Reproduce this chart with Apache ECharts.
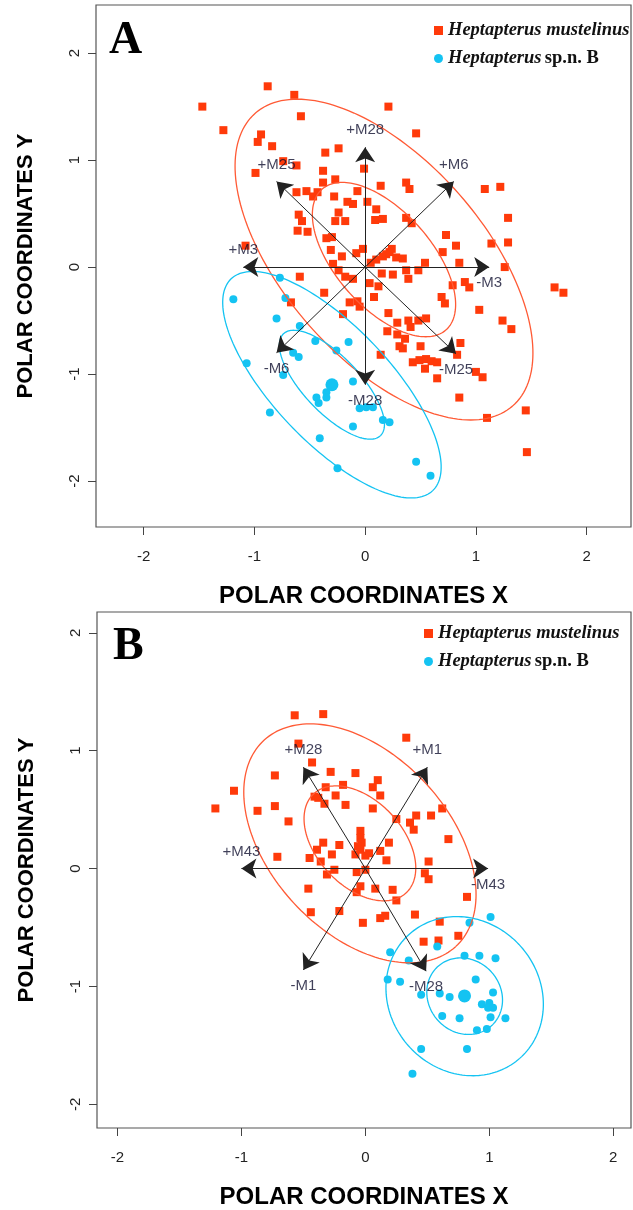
<!DOCTYPE html>
<html>
<head>
<meta charset="utf-8">
<script src="https://cdn.jsdelivr.net/npm/echarts@6/dist/echarts.min.js"></script>
<style>
html,body{margin:0;padding:0;background:#fff;}
#chart{width:633px;height:1210px;}
</style>
</head>
<body>
<div id="chart"></div>
<script>
// ---------- DATA ----------
const tickValues = [-2, -1, 0, 1, 2];
const speciesNames = ['Heptapterus mustelinus', 'Heptapterus sp.n. B'];

// Panel A
const redA = [
[-1.47,1.50],[-0.88,1.69],[-0.64,1.61],[-0.58,1.41],[-1.28,1.28],[-0.94,1.24],[-0.97,1.17],[-0.84,1.13],
[-0.24,1.11],[-0.36,1.07],[-0.74,0.99],[-0.62,0.95],[-0.99,0.88],[-0.38,0.90],[-0.27,0.82],[-0.38,0.79],
[-0.62,0.70],[-0.53,0.71],[-0.47,0.66],[-0.43,0.70],[-0.07,0.71],[-0.28,0.66],[-0.16,0.61],[-0.11,0.59],
[-0.60,0.49],[-0.57,0.43],[-0.24,0.51],[-0.27,0.43],[-0.18,0.43],[-0.61,0.34],[-0.52,0.33],[-0.35,0.27],
[-0.30,0.28],[-0.31,0.16],[-0.21,0.10],[-0.02,0.17],[-1.08,0.20],[-0.29,0.03],[0.21,1.50],[0.46,1.25],
[-0.01,0.92],[0.14,0.76],[0.37,0.79],[0.40,0.73],[1.08,0.73],[1.22,0.75],[0.02,0.61],[0.10,0.54],
[1.29,0.46],[0.09,0.44],[0.16,0.45],[0.37,0.46],[0.42,0.41],[0.73,0.30],[0.82,0.20],[1.14,0.22],
[1.29,0.23],[0.70,0.14],[0.24,0.17],[-0.08,0.13],[0.10,0.07],[0.16,0.10],[0.19,0.12],[0.22,0.14],
[0.28,0.09],[0.34,0.08],[-0.24,-0.03],[0.54,0.04],[0.85,0.04],[0.05,0.04],[1.26,0.00],[-0.59,-0.09],
[-0.18,-0.09],[0.15,-0.06],[0.25,-0.07],[0.37,-0.03],[0.39,-0.11],[0.48,-0.03],[-0.11,-0.11],[0.04,-0.15],
[0.12,-0.18],[0.79,-0.17],[0.90,-0.14],[0.94,-0.19],[1.71,-0.19],[1.79,-0.24],[0.08,-0.28],[0.69,-0.28],
[0.72,-0.34],[-0.67,-0.33],[-0.07,-0.32],[-0.14,-0.33],[-0.05,-0.37],[1.03,-0.40],[-0.20,-0.44],[0.21,-0.43],
[1.24,-0.50],[1.32,-0.58],[0.29,-0.52],[0.39,-0.50],[0.41,-0.56],[0.48,-0.50],[0.55,-0.48],[0.20,-0.60],
[0.29,-0.63],[0.36,-0.67],[0.31,-0.74],[0.34,-0.76],[0.50,-0.74],[0.86,-0.71],[0.14,-0.82],[0.83,-0.82],
[0.43,-0.89],[0.49,-0.87],[0.55,-0.86],[0.60,-0.88],[0.65,-0.89],[0.54,-0.95],[0.65,-1.04],[1.00,-0.98],
[1.06,-1.03],[0.85,-1.22],[1.10,-1.41],[1.45,-1.34],[1.46,-1.73],[-0.37,-0.24]
];
const blueA = [
[-0.77,-0.10],[-1.19,-0.30],[-0.72,-0.29],[-0.80,-0.48],[-0.59,-0.55],[-0.45,-0.69],[-0.15,-0.70],[-0.26,-0.78],
[-0.65,-0.80],[-0.60,-0.84],[-1.07,-0.90],[-0.74,-1.01],[-0.11,-1.07],[-0.35,-1.17],[-0.35,-1.22],[-0.44,-1.22],
[-0.42,-1.27],[-0.86,-1.36],[-0.11,-1.49],[-0.41,-1.60],[-0.25,-1.88],[-0.05,-1.32],[0.01,-1.31],[0.07,-1.31],
[0.16,-1.43],[0.22,-1.45],[0.46,-1.82],[0.59,-1.95]
];
const centroidBlueA = [[-0.30,-1.10]];
// ellipse: centre x, centre y, semi-axis vector u (x,y), conjugate semi-axis vector v (x,y)  (95% level)
const ellipseRedA  = [0.17, 0.07, 1.16, -1.37, -0.68, -0.61];
const ellipseBlueA = [-0.30, -1.10, 0.91, -0.99, -0.38, -0.375];
const arrowLabelsA = ['+M28','-M28','+M3','-M3','+M25','-M25','+M6','-M6'];
const arrowTipsA = [[0,1.12],[0,-1.10],[-1.10,0],[1.12,0],[-0.80,0.80],[0.82,-0.81],[0.80,0.80],[-0.80,-0.80]];

// Panel B
const redB = [
[-0.57,1.30],[-0.34,1.31],[-0.54,1.06],[-0.43,0.90],[-0.73,0.79],[-0.28,0.82],[-0.08,0.81],[-0.32,0.69],
[-0.18,0.71],[-1.06,0.66],[-0.73,0.53],[-0.41,0.61],[-0.38,0.60],[-0.24,0.62],[-0.33,0.55],[-0.16,0.54],
[-1.21,0.51],[-0.87,0.49],[-0.62,0.40],[-0.04,0.32],[-0.04,0.26],[-0.03,0.22],[-0.06,0.19],[-0.04,0.16],
[-0.34,0.22],[-0.39,0.16],[-0.21,0.20],[-0.27,0.12],[-0.08,0.12],[-0.71,0.10],[-0.45,0.09],[0.33,1.11],
[0.10,0.75],[0.06,0.69],[0.12,0.62],[0.06,0.51],[0.62,0.51],[0.53,0.45],[0.41,0.45],[0.25,0.42],
[0.36,0.39],[0.39,0.33],[0.67,0.25],[0.19,0.22],[-0.36,0.06],[0.03,0.13],[0.12,0.15],[0.17,0.07],
[0.51,0.06],[-0.25,-0.01],[-0.07,-0.03],[0.00,-0.01],[0.48,-0.04],[0.51,-0.09],[-0.31,-0.05],[-0.04,-0.15],
[-0.07,-0.20],[0.08,-0.17],[0.22,-0.18],[-0.46,-0.17],[0.25,-0.27],[0.82,-0.24],[-0.21,-0.36],[-0.44,-0.37],
[0.40,-0.39],[0.12,-0.42],[0.16,-0.40],[0.60,-0.45],[-0.02,-0.46],[0.75,-0.57],[0.47,-0.62],[0.59,-0.61],
[0.00,0.11]
];
const blueB = [
[1.01,-0.41],[0.84,-0.46],[0.58,-0.66],[0.20,-0.71],[0.35,-0.78],[0.80,-0.74],[0.92,-0.74],[1.05,-0.76],
[0.18,-0.94],[0.28,-0.96],[0.89,-0.94],[1.03,-1.05],[0.45,-1.07],[0.60,-1.06],[0.68,-1.09],[0.94,-1.15],
[1.00,-1.14],[0.99,-1.18],[1.03,-1.18],[1.13,-1.27],[1.01,-1.26],[0.62,-1.25],[0.76,-1.27],[0.90,-1.37],
[0.98,-1.36],[0.45,-1.53],[0.82,-1.53],[0.38,-1.74]
];
const centroidBlueB = [[0.80,-1.08]];
const ellipseRedB  = [-0.044, 0.214, 0.772, -0.876, -0.531, -0.509];
const ellipseBlueB = [0.801, -1.082, 0.428, -0.542, -0.469, -0.402];
const arrowLabelsB = ['+M43','-M43','+M28','-M28','+M1','-M1'];
const arrowTipsB = [[-1.00,0],[0.99,0],[-0.50,0.86],[0.49,-0.87],[0.50,0.86],[-0.50,-0.86]];

const ellipseLevels = [0.481, 1]; // 50% and 95% levels (relative scale)

// ---------- STYLE ----------
const RED = '#FF3A0A';
const RED_LINE = '#FF5A35';
const BLUE = '#14C3F2';
const FONT = 'Liberation Sans';
const SERIF = 'Liberation Serif';

const chart = echarts.init(document.getElementById('chart'), null, {renderer: 'canvas'});

function xAxisCfg(gi, min, max) {
  return {
    gridIndex: gi, type: 'value', min: min, max: max,
    axisLine: {show: false, onZero: false}, splitLine: {show: false},
    axisTick: {show: true, customValues: tickValues, length: 8, lineStyle: {color: '#444', width: 1}},
    axisLabel: {customValues: tickValues, margin: 22, fontSize: 15, color: '#222', fontFamily: FONT},
    name: 'POLAR COORDINATES X', nameLocation: 'middle', nameGap: 57,
    nameTextStyle: {fontWeight: 'bold', fontSize: 24, color: '#000', fontFamily: FONT}
  };
}
function yAxisCfg(gi, min, max) {
  return {
    gridIndex: gi, type: 'value', min: min, max: max,
    axisLine: {show: false, onZero: false}, splitLine: {show: false},
    axisTick: {show: true, customValues: tickValues, length: 8, lineStyle: {color: '#444', width: 1}},
    axisLabel: {customValues: tickValues, margin: 14, fontSize: 15, color: '#222', rotate: 90, fontFamily: FONT},
    name: 'POLAR COORDINATES Y', nameLocation: 'middle', nameGap: 59, nameRotate: 90,
    nameTextStyle: {fontWeight: 'bold', fontSize: 22, color: '#000', fontFamily: FONT}
  };
}

function ellipseSeries(gi, params, color) {
  return {
    type: 'custom', xAxisIndex: gi, yAxisIndex: gi, silent: true, z: 3,
    data: ellipseLevels.map(s => params.concat([s])),
    renderItem: function (p, api) {
      const cx = api.value(0), cy = api.value(1), ux = api.value(2), uy = api.value(3),
            vx = api.value(4), vy = api.value(5), s = api.value(6);
      const pts = [];
      const N = 180;
      for (let i = 0; i <= N; i++) {
        const t = 2 * Math.PI * i / N;
        const c = Math.cos(t), sn = Math.sin(t);
        pts.push(api.coord([cx + s * (ux * c + vx * sn), cy + s * (uy * c + vy * sn)]));
      }
      return {type: 'polyline', shape: {points: pts}, style: {stroke: color, lineWidth: 1.3, fill: null}};
    },
    encode: {x: 0, y: 1}
  };
}

function arrowSeries(gi, tips) {
  return {
    type: 'lines', coordinateSystem: 'cartesian2d', xAxisIndex: gi, yAxisIndex: gi, z: 5, silent: true,
    symbol: ['none', 'arrow'], symbolSize: 15,
    lineStyle: {color: '#222', width: 1, opacity: 1, curveness: 0},
    data: tips.map(t => ({coords: [[0, 0], t]}))
  };
}

function arrowLabelSeries(gi, labels, tips) {
  return {
    type: 'scatter', xAxisIndex: gi, yAxisIndex: gi, z: 6, silent: true,
    symbol: 'circle', symbolSize: 1, itemStyle: {color: 'rgba(0,0,0,0)'},
    data: tips.map((t, i) => ({
      name: labels[i], value: t,
      label: {position: labels[i][0] === '+' ? 'top' : 'bottom', distance: labels[i][0] === '+' ? 9 : 8}
    })),
    label: {show: true, formatter: '{b}', fontSize: 15, color: '#101030', fontFamily: FONT}
  };
}

function legendCfg(left, top) {
  return {
    left: left, top: top, orient: 'vertical', itemWidth: 9, itemHeight: 9, itemGap: 9,
    padding: 0, selectedMode: false,
    data: [{name: speciesNames[0], icon: 'rect'}, {name: speciesNames[1], icon: 'circle'}],
    formatter: function (n) {
      return n === speciesNames[0] ? '{bi|Heptapterus mustelinus}' : '{bi|Heptapterus} {b|sp.n. B}';
    },
    textStyle: {
      rich: {
        bi: {fontFamily: SERIF, fontStyle: 'italic', fontWeight: 'bold', fontSize: 18.5, color: '#111'},
        b: {fontFamily: SERIF, fontWeight: 'bold', fontSize: 18.5, color: '#111'}
      }
    }
  };
}

const option = {
  animation: false,
  backgroundColor: '#fff',
  textStyle: {fontFamily: FONT},
  title: [
    {text: 'A', left: 109, top: 18, padding: 0, textStyle: {fontFamily: SERIF, fontWeight: 'bold', fontSize: 46, color: '#000'}},
    {text: 'B', left: 113, top: 624, padding: 0, textStyle: {fontFamily: SERIF, fontWeight: 'bold', fontSize: 46, color: '#000'}}
  ],
  legend: [legendCfg(434, 21), legendCfg(424, 624)],
  grid: [
    {left: 96, top: 5, width: 535, height: 522, show: true, borderColor: '#555', borderWidth: 1.2, backgroundColor: 'transparent'},
    {left: 97, top: 612, width: 534, height: 521, show: true, borderColor: '#555', borderWidth: 1.2, backgroundColor: 'transparent'}
  ],
  xAxis: [xAxisCfg(0, -2.43, 2.40), xAxisCfg(1, -2.165, 2.143)],
  yAxis: [yAxisCfg(0, -2.43, 2.45), yAxisCfg(1, -2.20, 2.176)],
  series: [
    {name: speciesNames[0], type: 'scatter', xAxisIndex: 0, yAxisIndex: 0, symbol: 'rect', symbolSize: 8, itemStyle: {color: RED, opacity: 1}, data: redA, z: 2},
    {name: speciesNames[1], type: 'scatter', xAxisIndex: 0, yAxisIndex: 0, symbol: 'circle', symbolSize: 8, itemStyle: {color: BLUE, opacity: 1}, data: blueA, z: 2},
    {name: 'centroidA', type: 'scatter', xAxisIndex: 0, yAxisIndex: 0, symbol: 'circle', symbolSize: 13, itemStyle: {color: BLUE, opacity: 1}, data: centroidBlueA, z: 2},
    ellipseSeries(0, ellipseRedA, RED_LINE),
    ellipseSeries(0, ellipseBlueA, BLUE),
    arrowSeries(0, arrowTipsA),
    arrowLabelSeries(0, arrowLabelsA, arrowTipsA),

    {name: speciesNames[0], type: 'scatter', xAxisIndex: 1, yAxisIndex: 1, symbol: 'rect', symbolSize: 8, itemStyle: {color: RED, opacity: 1}, data: redB, z: 2},
    {name: speciesNames[1], type: 'scatter', xAxisIndex: 1, yAxisIndex: 1, symbol: 'circle', symbolSize: 8, itemStyle: {color: BLUE, opacity: 1}, data: blueB, z: 2},
    {name: 'centroidB', type: 'scatter', xAxisIndex: 1, yAxisIndex: 1, symbol: 'circle', symbolSize: 13, itemStyle: {color: BLUE, opacity: 1}, data: centroidBlueB, z: 2},
    ellipseSeries(1, ellipseRedB, RED_LINE),
    ellipseSeries(1, ellipseBlueB, BLUE),
    arrowSeries(1, arrowTipsB),
    arrowLabelSeries(1, arrowLabelsB, arrowTipsB)
  ]
};
chart.setOption(option);
</script>
</body>
</html>
